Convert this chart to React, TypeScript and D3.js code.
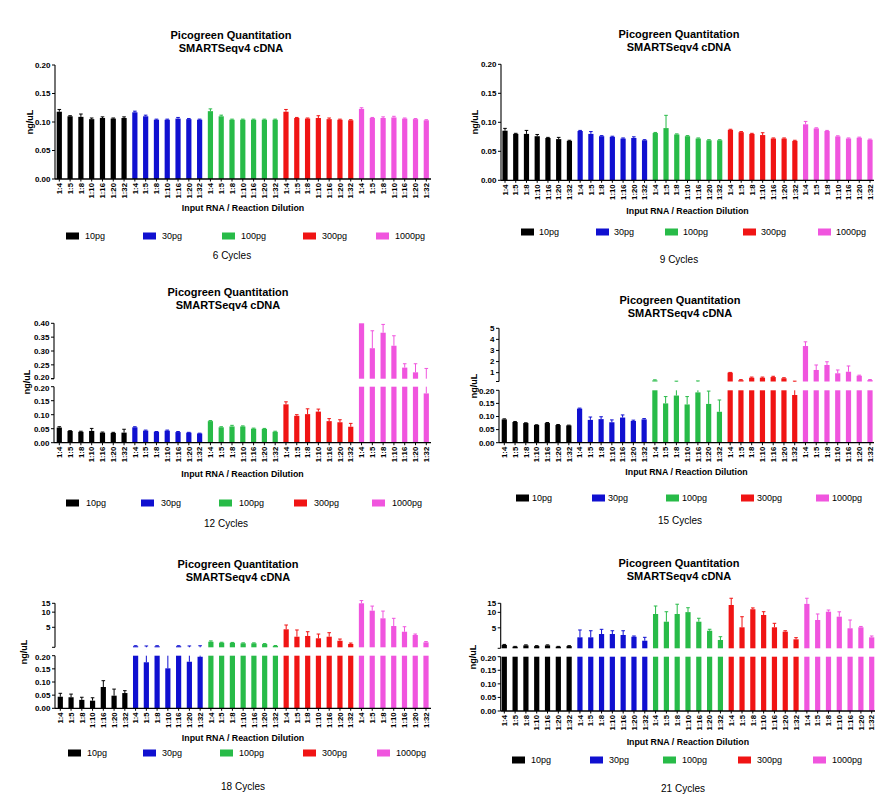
import React from "react";
import * as d3 from "d3";

const dilutions = ["1:4", "1:5", "1:8", "1:10", "1:16", "1:20", "1:32"];
const groups = ["10pg", "30pg", "100pg", "300pg", "1000pg"];
const groupColors = ["#000000", "#1010d0", "#28bb48", "#f01414", "#f055de"];
const panelTitle1 = "Picogreen Quantitation";
const panelTitle2 = "SMARTSeqv4 cDNA";
const xAxisTitle = "Input RNA / Reaction Dilution";
const yAxisTitle = "ng/uL";

// 6 cycles
const c6Mean = [
  0.118, 0.110, 0.109, 0.105, 0.107, 0.106, 0.107,
  0.117, 0.110, 0.104, 0.104, 0.106, 0.105, 0.104,
  0.119, 0.110, 0.104, 0.104, 0.104, 0.104, 0.104,
  0.118, 0.107, 0.106, 0.107, 0.105, 0.104, 0.103,
  0.123, 0.107, 0.107, 0.108, 0.106, 0.105, 0.103,
];
const c6Err = [
  0.004, 0.001, 0.005, 0.002, 0.002, 0.001, 0.002,
  0.002, 0.002, 0.001, 0.001, 0.002, 0.001, 0.001,
  0.004, 0.002, 0.001, 0.001, 0.001, 0.001, 0.001,
  0.004, 0.001, 0.001, 0.004, 0.002, 0.001, 0.001,
  0.002, 0.001, 0.002, 0.002, 0.001, 0.001, 0.001,
];
// 9 cycles
const c9Mean = [
  0.0855, 0.080, 0.080, 0.076, 0.073, 0.071, 0.068,
  0.085, 0.080, 0.076, 0.075, 0.072, 0.073, 0.069,
  0.0815, 0.090, 0.079, 0.076, 0.072, 0.069, 0.069,
  0.087, 0.083, 0.080, 0.078, 0.072, 0.072, 0.068,
  0.0965, 0.0895, 0.085, 0.0757, 0.072, 0.0734, 0.070,
];
const c9Err = [
  0.004, 0.001, 0.006, 0.003, 0.001, 0.003, 0.001,
  0.001, 0.004, 0.001, 0.001, 0.001, 0.002, 0.001,
  0.001, 0.022, 0.001, 0.001, 0.001, 0.001, 0.001,
  0.001, 0.001, 0.001, 0.004, 0.001, 0.001, 0.001,
  0.005, 0.001, 0.001, 0.001, 0.001, 0.001, 0.001,
];
// 12 cycles
const c12Mean = [
  0.054, 0.042, 0.039, 0.042, 0.036, 0.035, 0.036,
  0.055, 0.043, 0.039, 0.043, 0.038, 0.036, 0.033,
  0.077, 0.055, 0.058, 0.058, 0.050, 0.049, 0.039,
  0.137, 0.096, 0.102, 0.111, 0.077, 0.073, 0.057,
  0.400, 0.310, 0.366, 0.319, 0.240, 0.223, 0.176,
];
const c12Err = [
  0.003, 0.001, 0.002, 0.009, 0.002, 0.002, 0.012,
  0.002, 0.002, 0.001, 0.002, 0.002, 0.001, 0.001,
  0.002, 0.002, 0.004, 0.002, 0.002, 0.002, 0.002,
  0.009, 0.004, 0.019, 0.009, 0.009, 0.009, 0.012,
  0.000, 0.063, 0.030, 0.036, 0.014, 0.031, 0.061,
];
// 15 cycles
const c15Mean = [
  0.089, 0.079, 0.075, 0.0675, 0.075, 0.0675, 0.066,
  0.130, 0.087, 0.090, 0.078, 0.096, 0.083, 0.089,
  0.300, 0.150, 0.180, 0.146, 0.192, 0.148, 0.118,
  1.000, 0.320, 0.540, 0.540, 0.600, 0.490, 0.182,
  3.400, 1.240, 1.690, 0.940, 1.080, 0.720, 0.330,
];
const c15Err = [
  0.002, 0.002, 0.001, 0.001, 0.002, 0.002, 0.001,
  0.002, 0.011, 0.009, 0.009, 0.010, 0.003, 0.003,
  0.050, 0.026, 0.050, 0.030, 0.060, 0.049, 0.045,
  0.020, 0.050, 0.060, 0.060, 0.070, 0.050, 0.050,
  0.380, 0.450, 0.290, 0.300, 0.520, 0.050, 0.050,
];
// 18 cycles
const c18Mean = [
  0.044, 0.042, 0.032, 0.029, 0.081, 0.048, 0.058,
  2.10, 0.175, 2.10, 0.152, 2.10, 0.177, 0.196,
  2.58, 2.47, 2.45, 2.40, 2.40, 2.32, 2.12,
  4.56, 3.25, 3.36, 3.02, 3.25, 2.70, 2.33,
  15.0, 10.7, 7.54, 5.30, 4.08, 3.51, 2.51,
];
const c18Err = [
  0.013, 0.012, 0.010, 0.011, 0.024, 0.025, 0.009,
  0.05, 1.95, 0.05, 0.30, 0.05, 1.95, 1.95,
  0.10, 0.05, 0.05, 0.05, 0.05, 0.05, 0.05,
  0.99, 1.17, 0.72, 0.65, 0.65, 0.22, 0.10,
  2.00, 2.50, 2.96, 2.24, 1.05, 0.16, 0.09,
];
// 21 cycles
const c21Mean = [
  2.32, 2.15, 2.28, 2.21, 2.28, 2.15, 2.21,
  3.27, 3.27, 3.79, 3.79, 3.63, 3.36, 2.81,
  9.29, 6.58, 9.29, 10.1, 6.58, 4.39, 2.90,
  13.9, 5.12, 11.5, 8.89, 5.12, 4.21, 2.99,
  14.6, 7.10, 10.3, 8.24, 4.90, 5.12, 3.27,
];
const c21Err = [
  0.06, 0.03, 0.05, 0.04, 0.05, 0.03, 0.04,
  1.27, 1.12, 0.89, 0.60, 0.76, 0.11, 0.46,
  4.00, 3.70, 5.10, 2.20, 1.10, 0.30, 0.46,
  4.90, 3.10, 0.70, 1.40, 1.00, 0.18, 0.23,
  4.20, 2.20, 0.80, 2.00, 2.20, 0.20, 0.20,
];

const lowTicks = [0, 0.05, 0.1, 0.15, 0.2];
const mid12Ticks = [0.2, 0.25, 0.3, 0.35, 0.4];
const mid15Ticks = [1, 2, 3, 4, 5];
const top18Ticks = [5, 10, 15];
const cycleLabels = ["6 Cycles", "9 Cycles", "12 Cycles", "15 Cycles", "18 Cycles", "21 Cycles"];

type Seg = { type: "lin" | "log"; domain: [number, number]; range: [number, number]; ticks: number[]; fmt: (v: number) => string };
type Cfg = {
  mean: number[]; err: number[]; label: string;
  axisX: number; firstX: number; lastX: number; axisEnd: number;
  segs: Seg[];
  titleX: number; titleY: number; xTitleY: number; legendY: number; legendXs: number[]; textOff: number;
  cycX: number; cycY: number; yLabX: number; yLabY: number;
};

const f2 = (v: number) => d3.format(".2f")(v);
const f0 = (v: number) => d3.format("d")(v);

const panels: Cfg[] = [
  {
    mean: c6Mean, err: c6Err, label: cycleLabels[0],
    axisX: 55, firstX: 59.3, lastX: 426.3, axisEnd: 431,
    segs: [{ type: "lin", domain: [0, 0.2], range: [179, 65], ticks: lowTicks, fmt: f2 }],
    titleX: 231, titleY: 39, xTitleY: 211, legendY: 236, legendXs: [66, 143, 222, 303, 376], textOff: 19,
    cycX: 232, cycY: 259, yLabX: 30, yLabY: 122,
  },
  {
    mean: c9Mean, err: c9Err, label: cycleLabels[1],
    axisX: 501, firstX: 505, lastX: 870, axisEnd: 874,
    segs: [{ type: "lin", domain: [0, 0.2], range: [180.3, 64.3], ticks: lowTicks, fmt: f2 }],
    titleX: 679, titleY: 38, xTitleY: 214, legendY: 232, legendXs: [521, 596, 665, 743, 818], textOff: 18,
    cycX: 679, cycY: 263, yLabX: 475, yLabY: 122,
  },
  {
    mean: c12Mean, err: c12Err, label: cycleLabels[2],
    axisX: 54, firstX: 59.3, lastX: 426.3, axisEnd: 431,
    segs: [
      { type: "lin", domain: [0, 0.2], range: [442.7, 386.7], ticks: lowTicks, fmt: f2 },
      { type: "lin", domain: [0.2, 0.4], range: [378.7, 323.3], ticks: mid12Ticks, fmt: f2 },
    ],
    titleX: 228, titleY: 296, xTitleY: 477, legendY: 503, legendXs: [66, 141, 219, 294, 372], textOff: 20,
    cycX: 226, cycY: 527, yLabX: 27, yLabY: 382,
  },
  {
    mean: c15Mean, err: c15Err, label: cycleLabels[3],
    axisX: 499, firstX: 504.3, lastX: 870, axisEnd: 874,
    segs: [
      { type: "lin", domain: [0, 0.2], range: [442.7, 390.3], ticks: lowTicks, fmt: f2 },
      { type: "lin", domain: [0.2, 5], range: [381.5, 328.3], ticks: mid15Ticks, fmt: f0 },
    ],
    titleX: 680, titleY: 304, xTitleY: 475, legendY: 498, legendXs: [516, 592, 666, 741, 816], textOff: 16,
    cycX: 680, cycY: 524, yLabX: 474, yLabY: 386,
  },
  {
    mean: c18Mean, err: c18Err, label: cycleLabels[4],
    axisX: 55, firstX: 60.3, lastX: 426, axisEnd: 431,
    segs: [
      { type: "lin", domain: [0, 0.2], range: [708.3, 655.7], ticks: lowTicks, fmt: f2 },
      { type: "log", domain: [2, 15], range: [647.3, 603.3], ticks: top18Ticks, fmt: f0 },
    ],
    titleX: 238, titleY: 568, xTitleY: 741, legendY: 753, legendXs: [68, 143, 220, 303, 377], textOff: 19,
    cycX: 243, cycY: 790, yLabX: 24, yLabY: 652,
  },
  {
    mean: c21Mean, err: c21Err, label: cycleLabels[5],
    axisX: 500.7, firstX: 504.3, lastX: 871.7, axisEnd: 875,
    segs: [
      { type: "lin", domain: [0, 0.2], range: [711, 656.7], ticks: lowTicks, fmt: f2 },
      { type: "log", domain: [2, 15], range: [648.3, 603.3], ticks: top18Ticks, fmt: f0 },
    ],
    titleX: 679, titleY: 567, xTitleY: 745, legendY: 760, legendXs: [512, 590, 663, 738, 813], textOff: 19,
    cycX: 683, cycY: 792, yLabX: 473, yLabY: 657,
  },
];

const FONT = "'Liberation Sans', Arial, sans-serif";
const BW = 5.2;

function makeScale(s: Seg) {
  return s.type === "log"
    ? d3.scaleLog().domain(s.domain).range(s.range)
    : d3.scaleLinear().domain(s.domain).range(s.range);
}

function Panel({ cfg }: { cfg: Cfg }) {
  const n = cfg.mean.length;
  const step = (cfg.lastX - cfg.firstX) / (n - 1);
  const x = d3
    .scaleBand<number>()
    .domain(d3.range(n))
    .range([cfg.firstX - BW / 2, cfg.lastX + BW / 2])
    .paddingInner(1 - BW / step)
    .paddingOuter(0);
  const scales = cfg.segs.map(makeScale);
  const y0 = cfg.segs[0].range[0];
  const topIdx = cfg.segs.length - 1;

  const marks: React.ReactNode[] = [];
  cfg.mean.forEach((v, i) => {
    const color = groupColors[Math.floor(i / dilutions.length)];
    const bx = x(i) as number;
    const cx = bx + x.bandwidth() / 2;
    const e = cfg.err[i];
    const top = v + e;
    cfg.segs.forEach((s, k) => {
      const sc = scales[k];
      const [lo, hi] = s.domain;
      if (v > lo) {
        const yTop = sc(Math.min(v, hi));
        const yBot = sc(lo);
        marks.push(<rect key={`b${i}-${k}`} x={bx} y={yTop} width={x.bandwidth()} height={Math.max(0, yBot - yTop)} fill={color} />);
      }
      if (e > 0 && top > lo && (v < hi || k === topIdx)) {
        const e0 = Math.max(v, lo);
        const e1 = k === topIdx ? top : Math.min(top, hi);
        if (e1 > e0) {
          marks.push(<line key={`e${i}-${k}`} x1={cx} x2={cx} y1={sc(e0)} y2={sc(e1)} stroke={color} strokeWidth={1} />);
        }
        if (top <= hi || k === topIdx) {
          marks.push(<line key={`c${i}-${k}`} x1={cx - 1.8} x2={cx + 1.8} y1={sc(top)} y2={sc(top)} stroke={color} strokeWidth={1} />);
        }
      }
    });
  });

  const tickFont = { fontFamily: FONT, fontSize: 8, fontWeight: 700 as const };
  const nSeg = cfg.segs.length;

  return (
    <g>
      <text x={cfg.titleX} y={cfg.titleY} textAnchor="middle" fontFamily={FONT} fontSize={11} fontWeight={700}>{panelTitle1}</text>
      <text x={cfg.titleX} y={cfg.titleY + 12.5} textAnchor="middle" fontFamily={FONT} fontSize={11} fontWeight={700}>{panelTitle2}</text>
      {marks}
      {/* y axis segments */}
      {cfg.segs.map((s, k) => (
        <g key={`ax${k}`}>
          <line x1={cfg.axisX} x2={cfg.axisX} y1={s.range[0]} y2={s.range[1]} stroke="#000" strokeWidth={1.1} />
          {s.ticks.map((t, ti) => {
            const ty = scales[k](t);
            // nudge labels at segment joins apart so they do not collide
            let nudge = 0;
            if (nSeg > 1 && k === 0 && ti === s.ticks.length - 1) nudge = 1.2;
            if (k > 0 && t === s.domain[0]) nudge = -1.2;
            return (
              <g key={`t${t}`}>
                <line x1={cfg.axisX - 3} x2={cfg.axisX} y1={ty} y2={ty} stroke="#000" strokeWidth={1} />
                <text x={cfg.axisX - 4.5} y={ty + nudge} dy="0.35em" textAnchor="end" {...tickFont}>{s.fmt(t)}</text>
              </g>
            );
          })}
          {k > 0 && (
            <line x1={cfg.axisX - 3} x2={cfg.axisX} y1={s.range[0]} y2={s.range[0]} stroke="#000" strokeWidth={1} />
          )}
        </g>
      ))}
      {/* x axis */}
      <line x1={cfg.axisX} x2={cfg.axisEnd} y1={y0} y2={y0} stroke="#000" strokeWidth={1.3} />
      {cfg.mean.map((_, i) => {
        const cx = (x(i) as number) + x.bandwidth() / 2;
        return (
          <g key={`xt${i}`}>
            <line x1={cx} x2={cx} y1={y0} y2={y0 + 2.5} stroke="#000" strokeWidth={1} />
            <text transform={`translate(${cx},${y0 + 4}) rotate(-90)`} dy="0.35em" textAnchor="end" fontFamily={FONT} fontSize={7.8} fontWeight={700}>
              {dilutions[i % dilutions.length]}
            </text>
          </g>
        );
      })}
      <text x={(cfg.axisX + cfg.axisEnd) / 2} y={cfg.xTitleY} textAnchor="middle" fontFamily={FONT} fontSize={8.8} fontWeight={700}>{xAxisTitle}</text>
      <text transform={`translate(${cfg.yLabX},${cfg.yLabY}) rotate(-90)`} textAnchor="middle" dy="0.35em" fontFamily={FONT} fontSize={9} fontWeight={700}>{yAxisTitle}</text>
      {/* legend */}
      {groups.map((g, j) => (
        <g key={g}>
          <rect x={cfg.legendXs[j]} y={cfg.legendY - 3.5} width={13} height={7} fill={groupColors[j]} />
          <text x={cfg.legendXs[j] + cfg.textOff} y={cfg.legendY} dy="0.35em" fontFamily={FONT} fontSize={9}>{g}</text>
        </g>
      ))}
      <text x={cfg.cycX} y={cfg.cycY} textAnchor="middle" fontFamily={FONT} fontSize={10}>{cfg.label}</text>
    </g>
  );
}

export default function App() {
  return (
    <svg width={896} height={798} style={{ position: "absolute", left: 0, top: 0, background: "#fff" }}>
      <rect x={0} y={0} width={896} height={798} fill="#fff" />
      {panels.map((p, i) => (
        <Panel key={i} cfg={p} />
      ))}
    </svg>
  );
}
